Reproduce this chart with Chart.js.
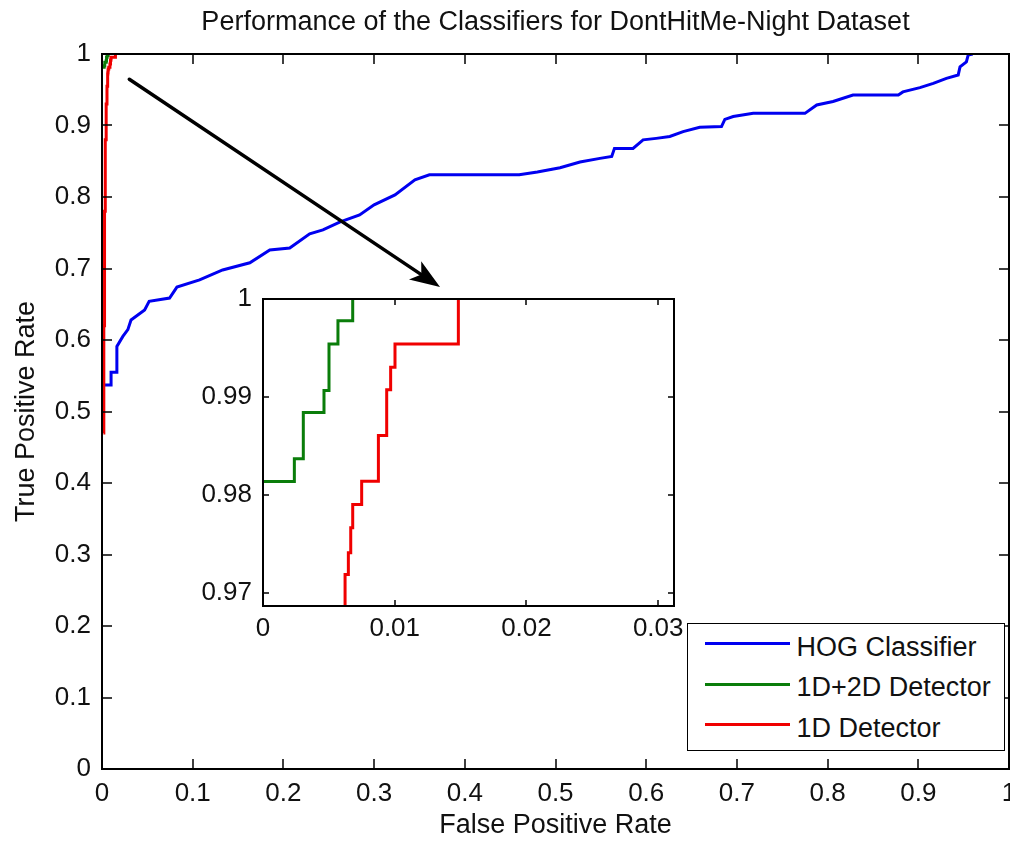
<!DOCTYPE html>
<html>
<head>
<meta charset="utf-8">
<title>Performance of the Classifiers for DontHitMe-Night Dataset</title>
<script src="https://cdn.jsdelivr.net/npm/chart.js@4.4.1/dist/chart.umd.min.js"></script>
<style>
  html, body { margin: 0; padding: 0; background: #fff; overflow: hidden; }
  #wrap { position: relative; width: 1010px; height: 842px; overflow: hidden; background: #fff; }
  #mainChart { position: absolute; left: 0; top: 0; }
  #insetChart { position: absolute; left: 180px; top: 270px; }
  #legend {
    position: absolute; left: 687px; top: 623px; width: 318px; height: 128px;
    box-sizing: border-box; border: 1.5px solid #000; background: #fff;
  }
  #legend .row { position: absolute; left: 0; height: 0; }
  #legend .swatch { position: absolute; left: 16.5px; top: -1.5px; width: 85px; height: 3px; }
  #legend .label {
    position: absolute; left: 108.5px; top: -10px; white-space: nowrap;
    font: 27px 'Liberation Sans', Arial, Helvetica, sans-serif; line-height: 1; color: #111;
  }
</style>
</head>
<body>
<div id="wrap">
  <canvas id="mainChart" width="1040" height="842"></canvas>
  <canvas id="insetChart" width="520" height="380"></canvas>
  <div id="legend"></div>
</div>
<script>
// ROC curves
const chartTitle = 'Performance of the Classifiers for DontHitMe-Night Dataset';
const seriesNames = ['HOG Classifier', '1D+2D Detector', '1D Detector'];

const hogFpr = [0.0028, 0.010, 0.010, 0.0155, 0.0164, 0.023, 0.0285, 0.032, 0.047, 0.052,
  0.0745, 0.0826, 0.1076, 0.133, 0.163, 0.185, 0.207, 0.229, 0.2436, 0.262,
  0.284, 0.300, 0.323, 0.345, 0.361, 0.460, 0.480, 0.505, 0.527, 0.549,
  0.562, 0.565, 0.5855, 0.5966, 0.611, 0.626, 0.6407, 0.659, 0.683, 0.6867,
  0.6959, 0.718, 0.775, 0.788, 0.806, 0.828, 0.878, 0.883, 0.9018, 0.9165,
  0.931, 0.944, 0.946, 0.953, 0.955, 0.960];
const hogTpr = [0.537, 0.537, 0.555, 0.555, 0.591, 0.605, 0.6145, 0.628, 0.642, 0.654,
  0.6587, 0.674, 0.684, 0.698, 0.708, 0.726, 0.7286, 0.7486, 0.754, 0.765,
  0.775, 0.789, 0.803, 0.824, 0.831, 0.831, 0.835, 0.841, 0.849, 0.854,
  0.8566, 0.868, 0.868, 0.8799, 0.882, 0.8846, 0.8915, 0.8975, 0.8985, 0.9085,
  0.9125, 0.917, 0.917, 0.9288, 0.9335, 0.9427, 0.9427, 0.947, 0.953, 0.959,
  0.966, 0.9707, 0.982, 0.989, 0.9986, 1.0];

const comboFpr = [0, 0.00238, 0.00306, 0.00463, 0.00501, 0.00569, 0.00681];
const comboTpr = [0.9814, 0.98372, 0.98843, 0.99067, 0.99542, 0.99779, 1.0];

const oneDFpr = [0.0015, 0.0020, 0.0028, 0.0036, 0.0046, 0.0055, 0.00623, 0.00648, 0.00666,
  0.00681, 0.00749, 0.00876, 0.00939, 0.00969, 0.01002, 0.01483];
const oneDTpr = [0.47, 0.62, 0.78, 0.88, 0.93, 0.955, 0.97192, 0.97413, 0.97667,
  0.97904, 0.98141, 0.98609, 0.99074, 0.99305, 0.99542, 1.0];

const mainXTicks = [0, 0.1, 0.2, 0.3, 0.4, 0.5, 0.6, 0.7, 0.8, 0.9, 1];
const mainYTicks = [0, 0.1, 0.2, 0.3, 0.4, 0.5, 0.6, 0.7, 0.8, 0.9, 1];
const insetXTicks = [0, 0.01, 0.02, 0.03];
const insetYTicks = [0.97, 0.98, 0.99, 1];

// zoom arrow, in data units of the main axes
const arrowTail = [0.0301, 0.9646];
const arrowHead = [0.3727, 0.674];

const seriesColors = ['#0000f0', '#0a7d0a', '#f00000'];
const textColor = '#111';

Chart.defaults.font.family = "'Liberation Sans', Arial, Helvetica, sans-serif";
Chart.defaults.color = textColor;

const fmt = v => String(Number(Number(v).toFixed(4)));

function curve(i, xs, ys, stepped) {
    return {
        label: seriesNames[i],
        data: xs.map((x, k) => ({ x, y: ys[k] })),
        borderColor: seriesColors[i],
        backgroundColor: seriesColors[i],
        borderWidth: 3,
        pointRadius: 0,
        fill: false,
        tension: 0,
        stepped,
        order: 3 - i,
    };
}

// matlab style box with inward ticks on all four sides
const boxTicks = {
    id: 'boxTicks',
    afterDatasetsDraw(chart, args, opts) {
        const { ctx, chartArea: a, scales: { x, y } } = chart;
        const len = opts.len || 8;
        ctx.save();
        ctx.strokeStyle = '#000';
        ctx.lineWidth = 1.5;
        ctx.beginPath();
        x.ticks.forEach(t => {
            const px = Math.round(x.getPixelForValue(t.value));
            if (px <= a.left + 1 || px >= a.right - 1) return;
            ctx.moveTo(px, a.bottom); ctx.lineTo(px, a.bottom - len);
            ctx.moveTo(px, a.top); ctx.lineTo(px, a.top + len);
        });
        y.ticks.forEach(t => {
            const py = Math.round(y.getPixelForValue(t.value));
            if (py <= a.top + 1 || py >= a.bottom - 1) return;
            ctx.moveTo(a.left, py); ctx.lineTo(a.left + len, py);
            ctx.moveTo(a.right, py); ctx.lineTo(a.right - len, py);
        });
        ctx.stroke();
        ctx.lineWidth = 2;
        ctx.strokeRect(a.left, a.top, a.right - a.left, a.bottom - a.top);
        ctx.restore();
    }
};

const arrowPlugin = {
    id: 'zoomArrow',
    afterDatasetsDraw(chart) {
        const { ctx, scales: { x, y } } = chart;
        const x0 = x.getPixelForValue(arrowTail[0]), y0 = y.getPixelForValue(arrowTail[1]);
        const x1 = x.getPixelForValue(arrowHead[0]), y1 = y.getPixelForValue(arrowHead[1]);
        const ang = Math.atan2(y1 - y0, x1 - x0);
        const c = Math.cos(ang), s = Math.sin(ang);
        const hl = 30, hw = 11;
        const bx = x1 - hl * c, by = y1 - hl * s;
        const nx = x1 - hl * 0.75 * c, ny = y1 - hl * 0.75 * s;
        ctx.save();
        ctx.strokeStyle = '#000';
        ctx.fillStyle = '#000';
        ctx.lineWidth = 3.5;
        ctx.lineCap = 'round';
        ctx.beginPath();
        ctx.moveTo(x0, y0);
        ctx.lineTo(nx, ny);
        ctx.stroke();
        ctx.beginPath();
        ctx.moveTo(x1, y1);
        ctx.lineTo(bx + hw * s, by - hw * c);
        ctx.lineTo(nx, ny);
        ctx.lineTo(bx - hw * s, by + hw * c);
        ctx.closePath();
        ctx.fill();
        ctx.restore();
    }
};

const whiteArea = {
    id: 'whiteArea',
    beforeDatasetsDraw(chart) {
        const { ctx, chartArea: a } = chart;
        ctx.save();
        ctx.fillStyle = '#fff';
        ctx.fillRect(a.left, a.top, a.right - a.left, a.bottom - a.top);
        ctx.restore();
    }
};

function axis(min, max, tickList, fit, tickPad, title) {
    return {
        type: 'linear',
        min, max,
        grid: { display: false, drawTicks: false },
        border: { display: false },
        afterBuildTicks: s => { s.ticks = tickList.map(v => ({ value: v })); },
        afterFit: fit,
        ticks: { font: { size: 26 }, padding: tickPad, maxRotation: 0, autoSkip: false, callback: fmt },
        title: title || { display: false },
    };
}

new Chart(document.getElementById('mainChart'), {
    type: 'line',
    data: {
        datasets: [
            curve(0, hogFpr, hogTpr, false),
            curve(1, comboFpr, comboTpr, true),
            curve(2, oneDFpr, oneDTpr, true),
        ]
    },
    options: {
        responsive: false,
        animation: false,
        events: [],
        layout: { padding: { left: 0, top: 0, right: 31, bottom: 0 } },
        plugins: {
            legend: { display: false },
            tooltip: { enabled: false },
            title: {
                display: true, text: chartTitle, fullSize: false, color: textColor,
                font: { size: 27, weight: 'normal', lineHeight: 1 },
                padding: { top: 9, bottom: 18 }
            },
            boxTicks: { len: 10 },
        },
        scales: {
            x: axis(0, 1, mainXTicks, s => { s.height = 73; }, 9, {
                display: true, text: 'False Positive Rate',
                font: { size: 27, lineHeight: 1 }, padding: { top: 0, bottom: 3 }
            }),
            y: axis(0, 1, mainYTicks, s => { s.width = 102; }, 11, {
                display: true, text: 'True Positive Rate',
                font: { size: 27, lineHeight: 1 }, padding: { top: 13, bottom: 0 }
            }),
        }
    },
    plugins: [boxTicks, arrowPlugin]
});

new Chart(document.getElementById('insetChart'), {
    type: 'line',
    data: {
        datasets: [
            curve(1, comboFpr, comboTpr, true),
            curve(2, oneDFpr, oneDTpr, true),
        ]
    },
    options: {
        responsive: false,
        animation: false,
        events: [],
        layout: { padding: { left: 0, top: 29, right: 26, bottom: 0 } },
        plugins: {
            legend: { display: false },
            tooltip: { enabled: false },
            boxTicks: { len: 6 },
        },
        scales: {
            x: axis(0, 0.0312, insetXTicks, s => { s.height = 44; }, 7),
            y: axis(0.9687, 1, insetYTicks, s => { s.width = 83; }, 11),
        }
    },
    plugins: [whiteArea, boxTicks]
});

// legend box built from the series names and colours
const legendEl = document.getElementById('legend');
seriesNames.forEach((name, i) => {
    const row = document.createElement('div');
    row.className = 'row';
    row.style.top = (19.5 + i * 40.5) + 'px';
    const sw = document.createElement('span');
    sw.className = 'swatch';
    sw.style.background = seriesColors[i];
    const lb = document.createElement('span');
    lb.className = 'label';
    lb.textContent = name;
    row.appendChild(sw);
    row.appendChild(lb);
    legendEl.appendChild(row);
});
</script>
</body>
</html>
